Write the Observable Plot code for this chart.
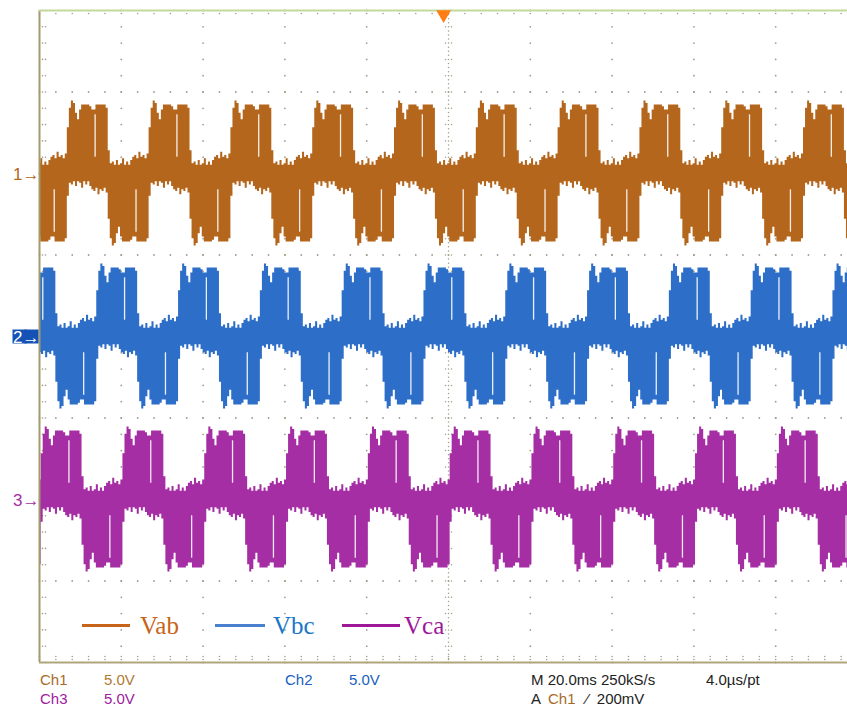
<!DOCTYPE html>
<html>
<head>
<meta charset="utf-8">
<script src="https://cdn.jsdelivr.net/npm/d3@7"></script>
<script src="https://cdn.jsdelivr.net/npm/@observablehq/plot@0.6"></script>
<style>
  html, body { margin: 0; padding: 0; background: #fff; }
  #wrap { position: relative; width: 847px; height: 710px; overflow: hidden; background: #fff; }
  #chart svg { display: block; overflow: hidden; }
  .ro { position: absolute; font-family: "Liberation Sans", Arial, sans-serif; font-size: 15px; white-space: pre; line-height: 1; }
  .lg { position: absolute; font-family: "Liberation Serif", "Times New Roman", serif; font-size: 25px; line-height: 1; }
  .ll { position: absolute; height: 3px; }
</style>
</head>
<body>
<div id="wrap">
  <div id="chart"></div>
</div>
<script>
// ---- Data ----
const channels = ["Vab", "Vbc", "Vca"];
const chLabels = ["1", "2", "3"];
const chOffsets = [10, 0, -10];
const chStart = [6.8, 14.0, 0.4];
const chColors = ["#b3661c", "#2d6ec8", "#a52ea5"];

// One 20 ms period of the line-voltage envelope (min / max per 0.5 ms column, volts)
const tplPhase = [0.0,0.5,1.0,1.5,2.0,2.5,3.0,3.5,4.0,4.5,5.0,5.5,6.0,6.5,7.0,7.5,8.0,8.5,9.0,9.5,
                  10.0,10.5,11.0,11.5,12.0,12.5,13.0,13.5,14.0,14.5,15.0,15.5,16.0,16.5,17.0,17.5,18.0,18.5,19.0,19.5];
const tplLo = [-1.4,-0.6,-0.7,-0.5,-0.8,-0.5,-0.6,-0.9,-0.5,-0.7,-0.5,-0.8,-1.0,-1.1,-0.9,-1.3,-1.0,-1.1,-0.9,-1.2,
               -2.8,-4.0,-4.45,-4.3,-3.7,-3.3,-3.9,-4.2,-4.2,-4.2,-4.2,-4.1,-3.9,-3.9,-4.2,-4.2,-4.2,-4.2,-4.2,-4.0];
const tplHi = [2.8,4.0,4.45,4.3,3.7,3.3,3.9,4.2,4.2,4.2,4.2,4.1,3.9,3.9,4.2,4.2,4.2,4.2,4.2,4.0,
               1.4,0.6,0.7,0.5,0.8,0.5,0.6,0.9,0.5,0.7,0.5,0.8,1.0,1.1,0.9,1.3,1.0,1.1,0.9,1.2];

// Thin white gaps seen inside each block
const gapPhase = [6.8, 16.8];
const gapLo = [1.0, -3.6];
const gapHi = [3.6, -1.0];

// Trigger position marker (ms)
const triggerTime = 98.8;

// Scope settings
const timePerDiv = 20;   // ms
const voltPerDiv = 5;    // V
const xDivs = 10, yDivs = 8;

// ---- Build tables ----
const wave = [];
const gaps = [];
channels.forEach((ch, c) => {
  for (let k = -1; k <= 10; k++) {
    tplPhase.forEach((p, i) => {
      const t = chStart[c] + timePerDiv * k + p;
      if (t >= -1 && t <= 201) wave.push({ch, t, lo: chOffsets[c] + tplLo[i], hi: chOffsets[c] + tplHi[i]});
    });
    gapPhase.forEach((p, i) => {
      const t = chStart[c] + timePerDiv * k + p;
      if (t > 0 && t < 200) gaps.push({ch, t, lo: chOffsets[c] + gapLo[i], hi: chOffsets[c] + gapHi[i]});
    });
  }
});

const xMax = timePerDiv * xDivs, yMax = voltPerDiv * yDivs / 2;
const minorX = timePerDiv / 5, minorY = voltPerDiv / 5;
const majorXs = d3.range(1, xDivs).map(i => i * timePerDiv).filter(v => v !== xMax / 2);
const majorYs = d3.range(-yDivs / 2 + 1, yDivs / 2).map(i => i * voltPerDiv).filter(v => v !== 0);
const minorXs = d3.range(0, xMax + 0.01, minorX);
const minorYs = d3.range(-yMax, yMax + 0.01, minorY);

const gridDots = [];
majorXs.forEach(x => minorYs.forEach(y => gridDots.push({x, y})));
majorYs.forEach(y => minorXs.forEach(x => gridDots.push({x, y})));
const centreDots = [];
d3.range(-yMax, yMax + 0.01, voltPerDiv / 20).forEach(y => centreDots.push({x: xMax / 2, y}));
d3.range(0, xMax + 0.01, timePerDiv / 20).forEach(x => centreDots.push({x, y: 0}));

const dotColor = "#a29e86";
const dotR = 0.9;
const font = "Liberation Sans, Arial, sans-serif";

const chart = Plot.plot({
  width: 847,
  height: 664,
  marginLeft: 39, marginRight: 0, marginTop: 10, marginBottom: 2,
  x: {type: "linear", domain: [0, xMax], range: [39, 857], axis: null},
  y: {type: "linear", domain: [-yMax, yMax], range: [662, 10], axis: null},
  color: {domain: channels, range: chColors},
  style: {background: "white", overflow: "hidden"},
  marks: [
    // grid
    Plot.dot(gridDots, {x: "x", y: "y", r: dotR, fill: dotColor, stroke: null}),
    Plot.dot(centreDots, {x: "x", y: "y", r: 0.75, fill: dotColor, stroke: null}),
    Plot.dot(minorYs, {x: xMax / 2, y: d => d, dx: -3, r: 0.75, fill: dotColor, stroke: null}),
    Plot.dot(minorYs, {x: xMax / 2, y: d => d, dx: 3, r: 0.75, fill: dotColor, stroke: null}),
    Plot.dot(minorXs, {x: d => d, y: 0, dy: -3, r: 0.75, fill: dotColor, stroke: null}),
    Plot.dot(minorXs, {x: d => d, y: 0, dy: 3, r: 0.75, fill: dotColor, stroke: null}),
    // border ticks
    Plot.dot(minorYs, {x: 0, y: d => d, dx: 3, r: 0.8, fill: dotColor, stroke: null}),
    Plot.dot(minorYs, {x: 0, y: d => d, dx: 6, r: 0.8, fill: dotColor, stroke: null}),
    Plot.dot(minorXs, {x: d => d, y: yMax, dy: 3, r: 0.8, fill: dotColor, stroke: null}),
    Plot.dot(minorXs, {x: d => d, y: -yMax, dy: -3, r: 0.8, fill: dotColor, stroke: null}),
    Plot.dot(minorXs, {x: d => d, y: -yMax, dy: -6, r: 0.8, fill: dotColor, stroke: null}),
    // waveforms
    Plot.areaY(wave, {x: "t", y1: "lo", y2: "hi", z: "ch", fill: "ch", curve: "step-after", clip: true}),
    Plot.ruleX(gaps, {x: "t", y1: "lo", y2: "hi", stroke: "white", strokeWidth: 1.3, strokeOpacity: 0.9}),
    // frame
    Plot.ruleX([0], {x: d => d, stroke: "#a39a6e", strokeWidth: 2}),
    Plot.ruleY([-yMax], {y: d => d, stroke: "#b0a67c", strokeWidth: 2}),
    Plot.ruleY([yMax], {y: d => d, stroke: "#c2d99c", strokeWidth: 2}),
    // trigger
    Plot.dot([triggerTime], {x: d => d, y: yMax, dy: 4, symbol: "triangle", rotate: 180, r: 5.5, fill: "#ff7d12", stroke: null}),
    // channel markers
    Plot.text([chOffsets[0], chOffsets[2]], {x: 0, y: d => d, text: (d, i) => (i === 0 ? "1" : "3") + "\u2192",
      textAnchor: "end", dx: 0, dy: 1, fill: (d, i) => i === 0 ? chColors[0] : chColors[2], fontSize: 17,
      fontFamily: font}),
    Plot.dot([chOffsets[1]], {x: 0, y: d => d, dx: -20, symbol: "square", r: 7.9, fill: "#1552b5", stroke: null}),
    Plot.dot([chOffsets[1]], {x: 0, y: d => d, dx: -8, symbol: "square", r: 7.9, fill: "#1552b5", stroke: null}),
    Plot.text([chOffsets[1]], {x: 0, y: d => d, text: d => "2\u2192", textAnchor: "end", dx: 0, dy: 1, fill: "white",
      fontSize: 17, fontFamily: font})
  ]
});
document.getElementById("chart").appendChild(chart);

// ---- Legend (inside the graticule) and scope readouts ----
const wrap = document.getElementById("wrap");
function add(cls, text, css) {
  const el = document.createElement("div");
  el.className = cls;
  if (text) el.textContent = text;
  Object.assign(el.style, css);
  wrap.appendChild(el);
}
const legendColors = ["#c8641a", "#1a78c8", "#a0189a"];
const legendLineColors = ["#c8641a", "#4a80d0", "#a0189a"];
const legendLine = [[82, 48], [215, 50], [342, 58]];
const legendText = [140, 273, 404];
channels.forEach((ch, i) => {
  add("ll", "", {left: legendLine[i][0] + "px", width: legendLine[i][1] + "px", top: "624px", background: legendLineColors[i]});
  add("lg", ch, {left: legendText[i] + "px", top: "613px", color: legendColors[i]});
});
const readouts = [
  ["Ch1", 40, 672, "#a86a2a"], ["5.0V", 104, 672, "#b07a30"],
  ["Ch3", 40, 691, "#a020a0"], ["5.0V", 104, 691, "#a020a0"],
  ["Ch2", 285, 672, "#2060c0"], ["5.0V", 349, 672, "#2060c0"],
  ["M 20.0ms 250kS/s", 531, 672, "#222"], ["4.0\u00b5s/pt", 706, 672, "#222"],
  ["A", 531, 691, "#222"], ["Ch1", 548, 691, "#a86a2a"], ["\u2044  200mV", 586, 691, "#222"]
];
readouts.forEach(([t, x, y, c]) => add("ro", t, {left: x + "px", top: y + "px", color: c}));
</script>
</body>
</html>
